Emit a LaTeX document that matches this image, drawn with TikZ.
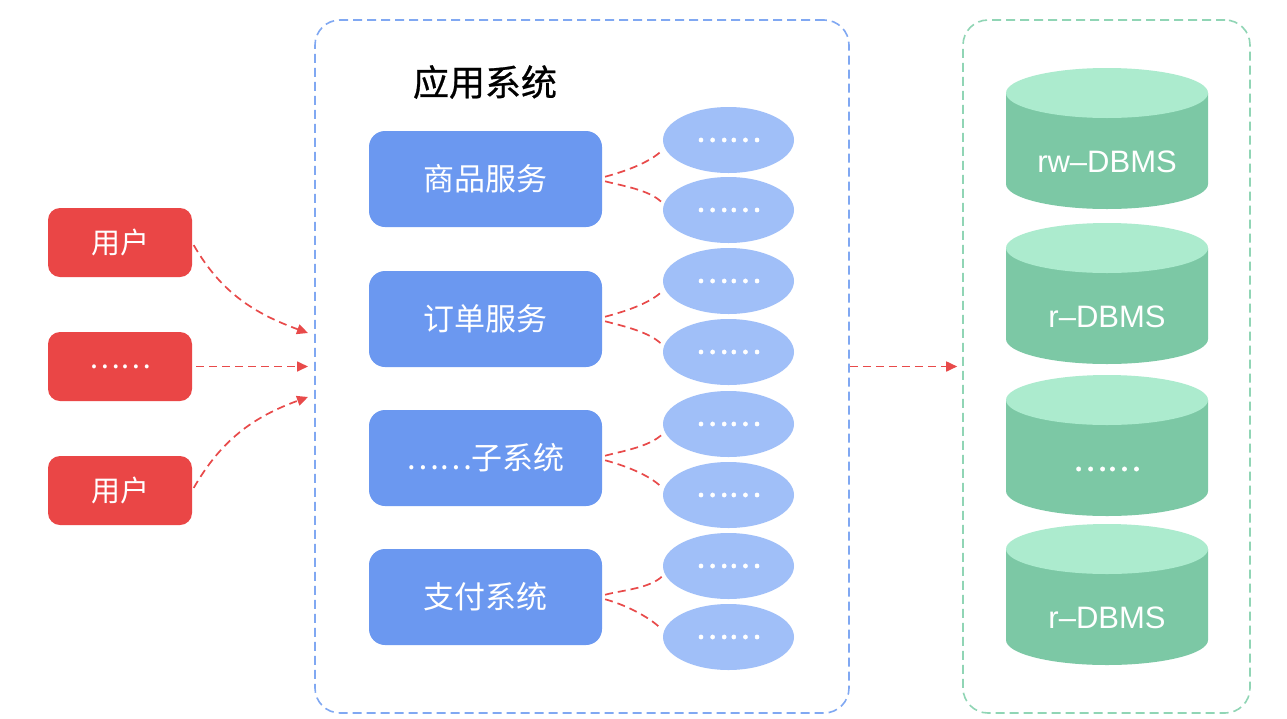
\documentclass[tikz,border=0pt]{standalone}
\usepackage{fontspec}
\setmainfont{Noto Sans CJK SC}
\newfontfamily\titlefont[FakeBold=0.7]{Noto Sans CJK SC}
\newfontfamily\dotfont[FakeBold=1.5]{Noto Sans CJK SC}
\newfontfamily\latinfont{Liberation Sans}
\usetikzlibrary{arrows.meta,shapes.geometric}
\definecolor{ured}{HTML}{EA4646}
\definecolor{sblue}{HTML}{6B98F0}
\definecolor{lblue}{HTML}{A0BFF8}
\definecolor{cblue}{HTML}{80A8F2}
\definecolor{cgreen}{HTML}{90D5B5}
\definecolor{lred}{HTML}{E84A4A}
\definecolor{dbtopc}{HTML}{ACEBCE}
\definecolor{dbbodyc}{HTML}{7CC8A5}
\begin{document}
\begin{tikzpicture}[x=1pt,y=1pt,
  userbox/.style={fill=ured, rounded corners=12pt, minimum width=144pt, minimum height=69pt, inner sep=0pt, text=white, font=\fontsize{29}{34}\selectfont},
  svcbox/.style={fill=sblue, rounded corners=16pt, minimum width=233pt, minimum height=96pt, inner sep=0pt, text=white, font=\fontsize{31}{36}\selectfont},
  subell/.style={ellipse, fill=lblue, minimum width=131pt, minimum height=66pt, inner sep=0pt, text=white, font=\dotfont\fontsize{31}{34}\selectfont},
  contbox/.style={rounded corners=25pt, line width=1.6pt, dash pattern=on 9pt off 5pt, minimum width=#1, minimum height=693pt, inner sep=0pt},
  link/.style={draw=lred, line width=1.7pt, dash pattern=on 8pt off 5pt},
  arr/.style={link, -{Triangle[length=11pt,width=10pt]}},
  dbtxt/.style={text=white, font=\latinfont\fontsize{31}{36}\selectfont, inner sep=0pt},
  dbdots/.style={text=white, font=\dotfont\fontsize{32}{36}\selectfont, inner sep=0pt},
  titletxt/.style={font=\titlefont\fontsize{36}{40}\selectfont, inner sep=0pt}
]
\useasboundingbox (0,0) rectangle (1287,-718);
\fill[white] (0,0) rectangle (1287,-718);

% containers
\node[contbox=534pt, draw=cblue] (app) at (582,-366.5) {};
\node[contbox=287pt, draw=cgreen] (db) at (1106.5,-366.5) {};

\node[titletxt] (title) at (485,-82) {应用系统};

% users
\node[userbox] (u1) at (120,-242.5) {用户};
\node[userbox] (u2) at (120,-366.5) {……};
\node[userbox] (u3) at (120,-490.5) {用户};

\coordinate (in1) at (308,-333);
\coordinate (in2) at (308,-366.5);
\coordinate (in3) at (308,-397);
\draw[arr, shorten <=3pt] (u1.east) to[out=-60,in=160] (in1);
\draw[arr, shorten <=4pt] (u2.east) -- (in2);
\draw[arr, shorten <=3pt] (u3.east) to[out=60,in=-160] (in3);

% services
\node[svcbox] (s1) at (485.5,-179) {商品服务};
\node[svcbox] (s2) at (485.5,-319) {订单服务};
\node[svcbox] (s3) at (485.5,-458) {……子系统};
\node[svcbox] (s4) at (485.5,-597) {支付系统};

% sub ellipses
\foreach \i/\y in {1/140,2/210,3/281,4/352,5/424,6/495,7/566,8/637}{
  \node[subell] (e\i) at (728.5,-\y) {……};
}

% service connectors
\foreach \s/\a/\b in {1/1/2,2/3/4,3/5/6,4/7/8}{
  \draw[link, shorten <=3pt, shorten >=3pt] ([yshift=1.5pt]s\s.east) to[out=15,in=-135, looseness=0.8] (e\a.187);
  \draw[link, shorten <=3pt, shorten >=3pt] ([yshift=-1.5pt]s\s.east) to[out=-15,in=135, looseness=0.8] (e\b.175);
}

% app -> db
\draw[arr, shorten >=5pt] (app.east) -- (db.west);

% cylinders
\foreach \t/\txt/\n/\st in {68/rw–DBMS/d1/dbtxt,223/r–DBMS/d2/dbtxt,375/……/d3/dbdots,524/r–DBMS/d4/dbtxt}{
  \fill[dbbodyc] (1006,-\t-25) -- (1006,-\t-116) arc[start angle=180,end angle=360,x radius=101,y radius=25] -- (1208,-\t-25) -- cycle;
  \fill[dbtopc] (1107,-\t-25) ellipse[x radius=101, y radius=25];
  \node[\st] (\n) at (1107,-\t-94) {\txt};
}
\end{tikzpicture}
\end{document}
